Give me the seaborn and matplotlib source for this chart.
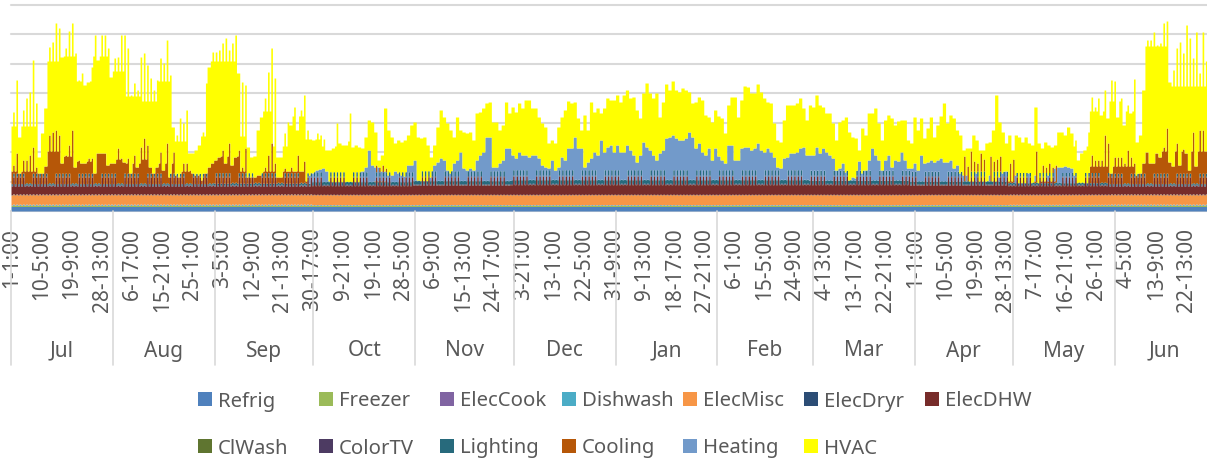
import numpy as np
import pandas as pd
import matplotlib
matplotlib.use("Agg")
import matplotlib.pyplot as plt
import seaborn as sns
from matplotlib.patches import Rectangle

OUTPUT_FIG = "out.png"

SERIES = ["Refrig", "Freezer", "ElecCook", "Dishwash", "ElecMisc", "ElecDryr", "ElecDHW",
          "ClWash", "ColorTV", "Lighting", "Cooling", "Heating", "HVAC"]
COLORS = ["#4F81BD", "#9BBB59", "#8064A2", "#4BACC6", "#F79646", "#2C4D75", "#772C2A",
          "#5F7530", "#4D3B62", "#276A7C", "#B65708", "#729ACA", "#FFFF00"]

MONTHS = ["Jul", "Aug", "Sep", "Oct", "Nov", "Dec", "Jan", "Feb", "Mar", "Apr", "May", "Jun"]
MONTH_DAYS = [31, 31, 30, 31, 30, 31, 31, 29, 31, 30, 31, 30]

TICK_LABELS = ["1-1:00", "10-5:00", "19-9:00", "28-13:00", "6-17:00", "15-21:00", "25-1:00",
               "3-5:00", "12-9:00", "21-13:00", "30-17:00", "9-21:00", "19-1:00", "28-5:00",
               "6-9:00", "15-13:00", "24-17:00", "3-21:00", "13-1:00", "22-5:00", "31-9:00",
               "9-13:00", "18-17:00", "27-21:00", "6-1:00", "15-5:00", "24-9:00", "4-13:00",
               "13-17:00", "22-21:00", "1-1:00", "10-5:00", "19-9:00", "28-13:00", "7-17:00",
               "16-21:00", "26-1:00", "4-5:00", "13-9:00", "22-13:00"]

# steady loads, one value a month
refrig = [4.5] * 12
freezer = [1.0] * 12
elec_cook = [0.2] * 12
dishwash = [0.3] * 12
dishwash_daily = [1.3, 1.3, 1.3, 0.8, 0.8, 0.8, 0.8, 0.8, 0.8, 0.8, 1.0, 1.3]
elec_misc = [10.0] * 12
elec_dryr = [0.3] * 12
elec_dhw = [8.5, 8.5, 8.5, 9.0, 9.5, 10.0, 10.0, 10.0, 10.0, 9.5, 9.0, 8.5]
cl_wash = [0.2] * 12
color_tv = [0.8] * 12
lighting = [1.5, 1.5, 2.0, 3.0, 3.5, 4.0, 4.0, 4.0, 3.5, 3.0, 2.0, 1.5]

# morning hot water peak on top of elec_dhw, one value a day
dhw_peak = [8, 8, 8, 8, 0, 0, 8, 8, 8, 8, 8, 0, 0, 8, 8, 8, 8, 8, 0, 0, 8, 8, 8, 8, 8, 0, 0, 8, 8, 8, 8,
            8, 0, 0, 8, 8, 8, 8, 8, 0, 0, 8, 8, 8, 8, 8, 0, 0, 8, 8, 8, 8, 8, 0, 0, 8, 8, 8, 8, 8, 0, 0,
            8, 8, 8, 8, 8, 0, 0, 8, 8, 8, 8, 8, 0, 0, 8, 8, 8, 8, 8, 0, 0, 8, 8, 8, 8, 8, 0, 0, 8, 8,
            8, 8, 8, 0, 0, 8, 8, 8, 8, 8, 0, 0, 8, 8, 8, 8, 8, 0, 0, 8, 8, 8, 8, 8, 0, 0, 8, 8, 8, 8, 8,
            0, 0, 8, 8, 8, 8, 8, 0, 0, 8, 8, 8, 8, 8, 0, 0, 8, 8, 8, 8, 8, 0, 0, 8, 8, 8, 8, 8, 0,
            0, 8, 8, 8, 8, 8, 0, 0, 8, 8, 8, 8, 8, 0, 0, 8, 8, 8, 8, 8, 0, 0, 8, 8, 8, 8, 8, 0, 0, 8, 8,
            8, 8, 8, 0, 0, 8, 8, 8, 8, 8, 0, 0, 8, 8, 8, 8, 8, 0, 0, 8, 8, 8, 8, 8, 0, 0, 8, 8, 8, 8, 8,
            0, 0, 8, 8, 8, 8, 8, 0, 0, 8, 8, 8, 8, 8, 0, 0, 8, 8, 8, 8, 8, 0, 0, 8, 8, 8, 8, 8,
            0, 0, 8, 8, 8, 8, 8, 0, 0, 8, 8, 8, 8, 8, 0, 0, 8, 8, 8, 8, 8, 0, 0, 8, 8, 8, 8, 8, 0, 0, 8,
            8, 8, 8, 8, 0, 0, 8, 8, 8, 8, 8, 0, 0, 8, 8, 8, 8, 8, 0, 0, 8, 8, 8, 8, 8, 0, 0, 8, 8, 8,
            8, 8, 0, 0, 8, 8, 8, 8, 8, 0, 0, 8, 8, 8, 8, 8, 0, 0, 8, 8, 8, 8, 8, 0, 0, 8, 8, 8, 8, 8, 0,
            0, 8, 8, 8, 8, 8, 0, 0, 8, 8, 8, 8, 8, 0, 0, 8, 8, 8, 8, 8, 0, 0,
            8, 8, 8, 8, 8, 0, 0, 8, 8, 8]

# top of the stack at the daily peak, one value a day
top_peak = [99, 131, 74, 101, 113, 119, 151, 108, 54, 78,
            103, 164, 169, 188, 183, 154, 163, 180, 188, 158,
            131, 138, 126, 129, 144, 176, 151, 176, 176, 163,
            134, 153, 154, 176, 176, 163, 116, 128, 121, 154,
            158, 146, 133, 121, 131, 153, 148, 171, 136, 84,
            76, 93, 88, 101, 58, 58, 61, 66, 79, 128,
            144, 159, 159, 161, 168, 173, 161, 168, 176, 138,
            129, 126, 64, 54, 55, 81, 94, 113, 139, 163,
            133, 54, 54, 78, 89, 86, 104, 81, 101, 116,
            81, 72, 71, 78, 76, 72, 61, 61, 63, 88,
            68, 66, 66, 98, 64, 66, 64, 63, 74, 91,
            89, 79, 51, 56, 103, 81, 74, 68, 71, 69,
            71, 76, 86, 89, 74, 73, 74, 66, 54, 66,
            84, 101, 94, 88, 81, 74, 94, 81, 79, 78,
            79, 71, 98, 99, 103, 108, 109, 89, 89, 81,
            86, 109, 98, 104, 99, 108, 103, 111, 111, 103,
            103, 94, 88, 84, 68, 71, 68, 84, 94, 101,
            110, 108, 109, 93, 81, 96, 81, 109, 99, 103,
            98, 103, 113, 111, 111, 116, 109, 116, 121, 113,
            114, 101, 93, 118, 128, 118, 113, 118, 94, 109,
            127, 121, 130, 121, 119, 123, 121, 119, 108, 109,
            114, 111, 96, 94, 89, 101, 95, 93, 78, 106,
            114, 114, 94, 111, 125, 124, 118, 118, 127, 119,
            113, 109, 108, 88, 71, 69, 91, 106, 106, 106,
            108, 113, 103, 91, 106, 104, 116, 106, 104, 98,
            98, 88, 71, 89, 91, 94, 79, 74, 73, 61,
            83, 76, 98, 98, 103, 88, 71, 91, 96, 93,
            86, 90, 91, 91, 71, 68, 94, 81, 93, 73,
            83, 94, 74, 86, 95, 108, 88, 96, 93, 81,
            76, 61, 63, 63, 76, 71, 61, 61, 68, 69,
            81, 116, 89, 79, 68, 76, 61, 76, 74, 69,
            74, 68, 66, 104, 68, 63, 69, 66, 64, 66,
            79, 79, 76, 84, 78, 71, 51, 58, 61, 79,
            114, 104, 113, 96, 121, 93, 131, 130, 94, 113,
            86, 106, 98, 132, 69, 76, 121, 171, 171, 179,
            166, 168, 188, 190, 129, 141, 163, 169, 158, 186,
            173, 153, 179, 138, 179, 150]

# level the rest of the day stays under, one value per 5 days
top_body_5d = [85, 85, 150, 155, 130, 155, 140, 115, 110, 130,
               70, 75, 150, 150, 75, 100, 65, 95, 72, 65, 70] + [999] * 44 + [65, 100, 110, 100, 165, 165, 125, 125, 125]

# top of the cooling band at the daily peak
cool_peak = [46, 58, 38, 51, 51, 56, 64, 44, 38, 38,
             45, 76, 79, 81, 76, 48, 56, 66, 81, 44,
             51, 48, 48, 53, 53, 38, 58, 58, 58, 46,
             48, 48, 63, 53, 49, 53, 38, 56, 44, 64,
             73, 66, 44, 38, 44, 59, 41, 68, 34, 59,
             36, 34, 48, 48, 41, 38, 36, 36, 31, 38,
             44, 48, 51, 54, 61, 48, 68, 46, 54, 61,
             44, 63, 34, 34, 34, 36, 36, 44, 56, 68,
             48, 34, 34, 43, 40, 44, 40, 56, 40, 50,
             34] + [0] * 19 + [0, 46, 44, 46, 43, 0] + [0] * 175 + [
             55, 45, 60, 50, 48, 58, 52, 0, 55, 50,
             52, 55, 0, 0, 48, 52, 0, 0, 0, 0,
             0, 0, 60, 0, 46, 44, 48, 44, 46, 0] + [0] * 9 + [
             56, 51, 51, 51, 76, 68, 38, 54, 54, 54,
             48, 61, 54, 48, 36, 38, 48, 59, 48, 48,
             58, 54, 64, 83, 49, 45, 68, 46, 62, 58,
             41, 79, 45, 81, 81, 60]
cool_body_5d = [40, 40, 60, 55, 50, 60, 52, 48, 52, 48, 40, 40, 55, 55, 40, 40, 40, 40] + [30] * 48 + [45, 45, 45, 60, 60, 60, 60, 60]

# top of the heating band, one value a day
heat_top = [0] * 91 + [36, 38, 41, 42, 43, 40, 30] + [0] * 9 + [40, 44, 61,
            46, 44, 44, 40, 40, 36, 36, 40, 38, 36,
            35, 46, 46, 51, 31, 29, 28, 24, 34, 46,
            49, 53, 51, 41, 38, 48, 51, 59, 43, 41,
            43, 41, 51, 56, 59, 74, 74, 44, 44, 48,
            51, 63, 63, 56, 53, 59, 56, 56, 54, 56,
            56, 53, 46, 44, 43, 51, 41, 44, 54, 51,
            63, 63, 74, 63, 63, 44, 49, 53, 59, 56,
            71, 59, 64, 66, 59, 66, 59, 59, 66, 61,
            56, 49, 56, 69, 64, 61, 56, 51, 58, 61,
            73, 74, 76, 73, 71, 71, 73, 79, 74, 63,
            68, 59, 56, 63, 51, 63, 55, 51, 48, 66,
            66, 51, 51, 63, 64, 64, 61, 63, 68, 61,
            59, 63, 59, 54, 44, 43, 53, 54, 58, 58,
            59, 63, 64, 56, 56, 56, 64, 58, 63, 59,
            56, 53, 41, 43, 48, 39, 31, 34, 33, 50,
            38, 41, 51, 63, 56, 51, 41, 51, 56, 44,
            51, 50, 59, 51, 43, 43, 48, 41, 56, 48,
            49, 51, 49, 51, 53, 49, 49, 51, 43, 46,
            38, 36, 36, 0, 0, 38, 0, 0, 0, 36, 0, 0, 34, 38, 40, 0, 0, 36, 0, 0, 0, 38, 0, 36, 0, 0, 0, 36, 0,
            43, 44, 44, 45, 44, 43, 36] + [0] * 40

GRID_STEP = 29.43
# the month scale runs a little past the right edge of the picture
DAY_SCALE = 3.286 / 3.268
N_DAYS = len(top_peak)


def by_month(values):
    return np.repeat(np.array(values, dtype=float), MONTH_DAYS)


def two_per_day(body, peak):
    return np.column_stack([body, peak]).ravel()


def flat(values):
    return two_per_day(by_month(values), by_month(values))


spike = np.array(dhw_peak, dtype=float)
layers = {
    "Refrig": flat(refrig),
    "Freezer": flat(freezer),
    "ElecCook": flat(elec_cook),
    "Dishwash": two_per_day(by_month(dishwash), by_month(dishwash_daily)),
    "ElecMisc": flat(elec_misc),
    "ElecDryr": flat(elec_dryr),
    "ElecDHW": two_per_day(by_month(elec_dhw), by_month(elec_dhw) + spike),
    "ClWash": flat(cl_wash),
    "ColorTV": flat(color_tv),
    "Lighting": two_per_day(by_month(lighting), by_month(lighting) + 1.5 * (spike > 0)),
}
base = np.sum(list(layers.values()), axis=0)

peak_cool = np.array(cool_peak, dtype=float)
body_cool = np.minimum(peak_cool, np.repeat(cool_body_5d, 5)[:N_DAYS])
cooling = np.clip(two_per_day(body_cool, peak_cool) - base, 0, None)

heat_daily = np.array(heat_top, dtype=float)
heating = np.clip(two_per_day(heat_daily, heat_daily) - base - cooling, 0, None)

peak_top = np.array(top_peak, dtype=float)
body_top = np.minimum(peak_top, np.repeat(top_body_5d, 5)[:N_DAYS])
hvac = np.clip(two_per_day(body_top, peak_top) - base - cooling - heating, 0, None)

layers["Cooling"] = cooling
layers["Heating"] = heating
layers["HVAC"] = hvac

n_bins = N_DAYS * 2
df = pd.concat([pd.DataFrame({"bin": np.arange(n_bins) + 0.5, "load": layers[s], "series": s})
                for s in SERIES], ignore_index=True)

sns.set_style("white")
plt.rcParams["font.family"] = ["Noto Sans", "DejaVu Sans"]
TEXT_COLOR = "#595959"
LINE_COLOR = "#D9D9D9"
FONT_SIZE = 15
LEGEND_SIZE = 14.6

W, H = 1207, 462
fig = plt.figure(figsize=(W / 100, H / 100), dpi=100)
ax = fig.add_axes([11 / W, (H - 211) / H, 1196 / W, 206 / H])

for k in range(8):
    ax.axhline(k * GRID_STEP, color=LINE_COLOR, lw=1.5, zorder=0, clip_on=False)

sns.histplot(data=df, x="bin", weights="load", hue="series", hue_order=SERIES[::-1],
             palette=dict(zip(SERIES, COLORS)), multiple="stack", element="step",
             binwidth=1, binrange=(0, n_bins), linewidth=0, alpha=1, legend=False, ax=ax, zorder=2)

ax.set_xlim(0, n_bins)
ax.set_ylim(0, 7 * GRID_STEP)
ax.set_xlabel("")
ax.set_ylabel("")
ax.set_yticks([])
for spine in ax.spines.values():
    spine.set_visible(False)

tick_pos = [220 * k / 12 * DAY_SCALE + 0.5 for k in range(len(TICK_LABELS))]
ax.set_xticks(tick_pos)
ax.set_xticklabels(TICK_LABELS, rotation=90, fontsize=FONT_SIZE, color=TEXT_COLOR)
ax.tick_params(axis="x", length=0, pad=12)

# month band under the hour labels
edges = np.concatenate([[0], np.cumsum(MONTH_DAYS)]) * 2 * DAY_SCALE
trans = ax.get_xaxis_transform()
for e in edges:
    ax.plot([e, e], [0, -154 / 206], color=LINE_COLOR, lw=1.2, transform=trans, clip_on=False)
for name, a, b in zip(MONTHS, edges[:-1], edges[1:]):
    ax.text((a + b) / 2, -140 / 206, name, transform=trans, ha="center", va="center",
            fontsize=FONT_SIZE, color=TEXT_COLOR)

# legend, two rows in equal cells
LEGEND_ROWS = [SERIES[:7], SERIES[7:]]
for row, names in enumerate(LEGEND_ROWS):
    y = 399 + row * 47
    for i, name in enumerate(names):
        x = 198 + i * 121.2
        fig.add_artist(Rectangle((x / W, 1 - (y + 7) / H), 14 / W, 14 / H, transform=fig.transFigure,
                                 color=COLORS[SERIES.index(name)], lw=0))
        fig.text((x + 20) / W, 1 - y / H, name, ha="left", va="center_baseline",
                 fontsize=LEGEND_SIZE, color=TEXT_COLOR)

fig.savefig(OUTPUT_FIG, dpi=100)
